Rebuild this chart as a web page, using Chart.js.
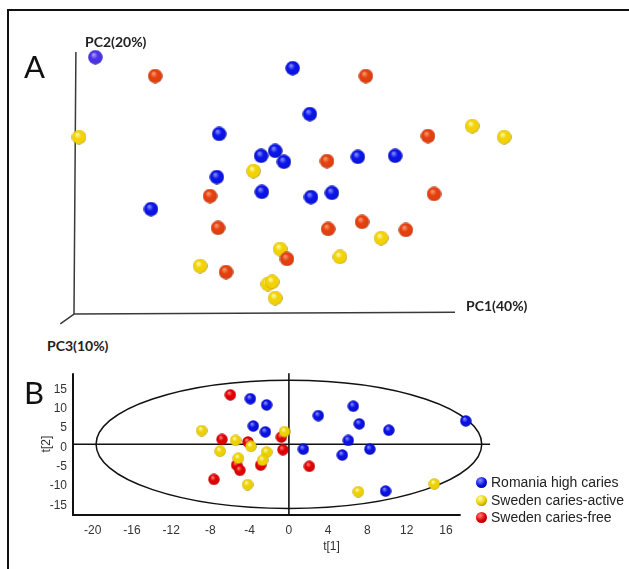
<!DOCTYPE html>
<html>
<head>
<meta charset="utf-8">
<script src="https://cdn.jsdelivr.net/npm/chart.js@4"></script>
<style>
  body { margin: 0; background: #fff; }
  #wrap { position: relative; width: 629px; height: 569px; overflow: hidden; }
  #frame { position: absolute; left: 7px; top: 9px; width: 640px; height: 600px;
           border-left: 2px solid #111; border-top: 2px solid #111; }
  canvas { position: absolute; left: 0; }
  .lbl { position: absolute; white-space: nowrap; color: #111; }
  .big { font: 400 31px Lato, sans-serif; line-height: 31px; }
  .pc { font: 700 14px Lato, sans-serif; line-height: 16px; color: #222; }
  #legend { position: absolute; left: 476px; top: 474px; font: 14px "Liberation Sans", Arial, sans-serif; color: #222; }
  #legend div { height: 17.5px; line-height: 17px; }
  #legend span { display: inline-block; width: 11px; height: 11px; border-radius: 50%;
                 vertical-align: -1px; margin-right: 4px; }
</style>
</head>
<body>
<div id="wrap">
  <div id="frame"></div>
  <canvas id="chartA" width="629" height="330" style="top:0"></canvas>
  <canvas id="chartB" width="629" height="209" style="top:360px"></canvas>
  <div class="lbl big" style="left:24px;top:51px">A</div>
  <div class="lbl big" style="left:24px;top:377px">B</div>
  <div class="lbl pc" style="left:85px;top:34px">PC2(20%)</div>
  <div class="lbl pc" style="left:466px;top:298px">PC1(40%)</div>
  <div class="lbl pc" style="left:47px;top:338px">PC3(10%)</div>
  <div id="legend"></div>
</div>
<script>
// ---- panel A: 3D PCA plot, points as read off the projection
// units: percent of the drawn PC1 axis (x) and PC2 axis (y)
const romaniaA_x = [5.6, 57.4, 61.9, 38.1, 52.8, 49.1, 55.1, 74.5, 84.3, 37.5, 49.3, 62.2, 67.7, 20.2];
const romaniaA_y = [98.0, 93.8, 76.2, 68.6, 62.1, 60.2, 57.9, 59.8, 60.2, 52.1, 46.4, 44.4, 46.0, 39.8];
const activeA_x = [1.3, 104.5, 112.9, 47.1, 80.6, 54.1, 69.8, 33.1, 50.9, 52.0, 52.8];
const activeA_y = [67.4, 71.6, 67.4, 54.4, 28.7, 24.5, 21.5, 18.0, 11.1, 11.9, 5.7];
const freeA_x = [21.3, 76.6, 92.9, 66.4, 35.7, 94.5, 37.8, 66.7, 75.6, 87.1, 55.9, 39.9];
const freeA_y = [90.8, 90.8, 67.8, 58.2, 44.8, 45.6, 32.6, 32.2, 34.9, 31.8, 20.7, 15.7];

// ---- panel B: score plot t[1] / t[2]
const groupNames = ['Romania high caries', 'Sweden caries-active', 'Sweden caries-free'];
const romaniaB_x = [-3.93, -2.27, -3.63, -2.40, 2.99, 6.56, 7.17, 10.18, 6.05, 1.47, 5.44, 8.25, 9.85, 18.02];
const romaniaB_y = [11.79, 10.2, 4.72, 3.21, 7.42, 9.85, 5.30, 3.64, 1.01, -1.26, -2.78, -1.26, -12.12, 6.06];
const activeB_x = [-8.89, -5.43, -7.02, -3.87, -2.27, -5.15, -2.68, -0.44, -4.21, 7.07, 14.81];
const activeB_y = [3.54, 1.01, -1.77, -0.51, -2.02, -3.61, -4.12, 3.28, -10.43, -12.27, -10.25];
const freeB_x = [-5.97, -6.82, -4.17, -0.77, -0.61, -5.33, -4.99, -2.88, -7.64, 2.08];
const freeB_y = [12.8, 1.26, 0.6, 1.87, -1.41, -5.38, -6.72, -5.38, -9.09, -5.71];
const xTicksB = [-20, -16, -12, -8, -4, 0, 4, 8, 12, 16];
const yTicksB = [-15, -10, -5, 0, 5, 10, 15];
const ellipseAxes = [19.65, 16.6];   // Hotelling T2 ellipse half-axes

Chart.defaults.font.family = '"Liberation Sans", Arial, sans-serif';

function pts(xs, ys) {
    return xs.map((v, i) => ({x: v, y: ys[i]}));
}

function sphere(d, light, mid, dark) {
    let c = document.createElement('canvas');
    c.width = c.height = d;
    let g = c.getContext('2d');
    let r = d / 2;
    let grad = g.createRadialGradient(r * 0.75, r * 0.62, r * 0.05, r, r, r);
    grad.addColorStop(0, light);
    grad.addColorStop(0.45, mid);
    grad.addColorStop(0.85, mid);
    grad.addColorStop(1, dark);
    g.fillStyle = grad;
    g.beginPath();
    g.arc(r, r, r - 0.3, 0, Math.PI * 2);
    g.fill();
    return c;
}

const blueA = sphere(15, '#8a90ff', '#0a14e6', '#000060');
const violetA = sphere(15, '#b0a0ff', '#4a32e8', '#1a0a70');
const yellowA = sphere(15, '#fffbb0', '#f2d200', '#8a6a00');
const redA = sphere(15, '#ff9a70', '#e2400e', '#7a1800');

const blueB = sphere(12, '#8a90ff', '#0a10e0', '#000060');
const yellowB = sphere(12, '#fffbb0', '#ecd000', '#8a6a00');
const redB = sphere(12, '#ff8080', '#e00000', '#6a0000');

// panel A axes (3D frame)
const frameA = {
    id: 'frameA',
    beforeDatasetsDraw(chart) {
        const {ctx, scales: {x, y}} = chart;
        ctx.save();
        ctx.strokeStyle = '#3a3a3a';
        ctx.lineWidth = 1.5;
        ctx.beginPath();
        ctx.moveTo(x.getPixelForValue(0.5), y.getPixelForValue(100));
        ctx.lineTo(x.getPixelForValue(0), y.getPixelForValue(-0.4));
        ctx.lineTo(x.getPixelForValue(100), y.getPixelForValue(0.3));
        ctx.moveTo(x.getPixelForValue(0), y.getPixelForValue(-0.4));
        ctx.lineTo(x.getPixelForValue(-3.6), y.getPixelForValue(-4.2));
        ctx.stroke();
        ctx.restore();
    }
};

new Chart(document.getElementById('chartA'), {
    type: 'scatter',
    data: {
        datasets: [
            {label: groupNames[2], data: pts(freeA_x, freeA_y), pointStyle: redA},
            {label: groupNames[1], data: pts(activeA_x, activeA_y), pointStyle: yellowA},
            {label: groupNames[0], data: pts(romaniaA_x, romaniaA_y),
             pointStyle: c => c.dataIndex === 0 ? violetA : blueA}
        ]
    },
    options: {
        responsive: false,
        animation: false,
        clip: false,
        layout: {padding: 0, autoPadding: false},
        plugins: {legend: {display: false}, tooltip: {enabled: false}},
        scales: {
            x: {display: false, min: -19.42, max: 145.67},
            y: {display: false, min: -6.52, max: 119.92}
        }
    },
    plugins: [frameA]
});

// panel B lines: axes, zero lines and the ellipse
const linesB = {
    id: 'linesB',
    beforeDatasetsDraw(chart) {
        const {ctx, scales: {x, y}} = chart;
        const px = v => x.getPixelForValue(v);
        const py = v => y.getPixelForValue(v);
        ctx.save();
        ctx.strokeStyle = '#111';
        ctx.lineWidth = 2;
        ctx.beginPath();
        ctx.moveTo(px(x.min), py(y.max));
        ctx.lineTo(px(x.min), py(y.min));
        ctx.lineTo(px(17.5), py(y.min));
        ctx.stroke();
        ctx.lineWidth = 1.6;
        ctx.beginPath();
        ctx.moveTo(px(x.min), py(0));
        ctx.lineTo(px(20.5), py(0));
        ctx.moveTo(px(0), py(y.max));
        ctx.lineTo(px(0), py(y.min));
        ctx.stroke();
        ctx.lineWidth = 1.5;
        ctx.beginPath();
        ctx.ellipse(px(0), py(0), px(ellipseAxes[0]) - px(0), py(0) - py(ellipseAxes[1]), 0, 0, Math.PI * 2);
        ctx.stroke();
        ctx.restore();
    }
};

new Chart(document.getElementById('chartB'), {
    type: 'scatter',
    data: {
        datasets: [
            {label: groupNames[0], data: pts(romaniaB_x, romaniaB_y), pointStyle: blueB},
            {label: groupNames[1], data: pts(activeB_x, activeB_y), pointStyle: yellowB},
            {label: groupNames[2], data: pts(freeB_x, freeB_y), pointStyle: redB}
        ]
    },
    options: {
        responsive: false,
        animation: false,
        clip: false,
        layout: {padding: {left: 0, right: 39, top: 10, bottom: 0}, autoPadding: false},
        plugins: {legend: {display: false}, tooltip: {enabled: false}},
        scales: {
            x: {
                min: -22, max: 30.68,
                border: {display: false},
                grid: {display: false, drawTicks: false},
                afterBuildTicks: s => { s.ticks = xTicksB.map(v => ({value: v})); },
                afterFit: s => { s.height = 54; },
                ticks: {color: '#333', font: {size: 12}, padding: 8, maxRotation: 0},
                title: {display: true, text: 't[1]', color: '#333', font: {size: 12}, padding: {top: 0, bottom: 15}}
            },
            y: {
                min: -18.3, max: 18.4,
                border: {display: false},
                grid: {display: false, drawTicks: false},
                afterBuildTicks: s => { s.ticks = yTicksB.map(v => ({value: v})); },
                afterFit: s => { s.width = 73; },
                ticks: {color: '#333', font: {size: 12}, padding: 6, labelOffset: 3},
                title: {display: true, text: 't[2]', color: '#333', font: {size: 12}, padding: {top: 39, bottom: 0}}
            }
        }
    },
    plugins: [linesB]
});

// legend for panel B
const legendColors = ['radial-gradient(circle at 38% 32%, #8a90ff, #0a10e0 50%, #000060)',
                      'radial-gradient(circle at 38% 32%, #fffbb0, #ecd000 50%, #8a6a00)',
                      'radial-gradient(circle at 38% 32%, #ff8080, #e00000 50%, #6a0000)'];
document.getElementById('legend').innerHTML = groupNames
    .map((n, i) => '<div><span style="background:' + legendColors[i] + '"></span>' + n + '</div>')
    .join('');
</script>
</body>
</html>
